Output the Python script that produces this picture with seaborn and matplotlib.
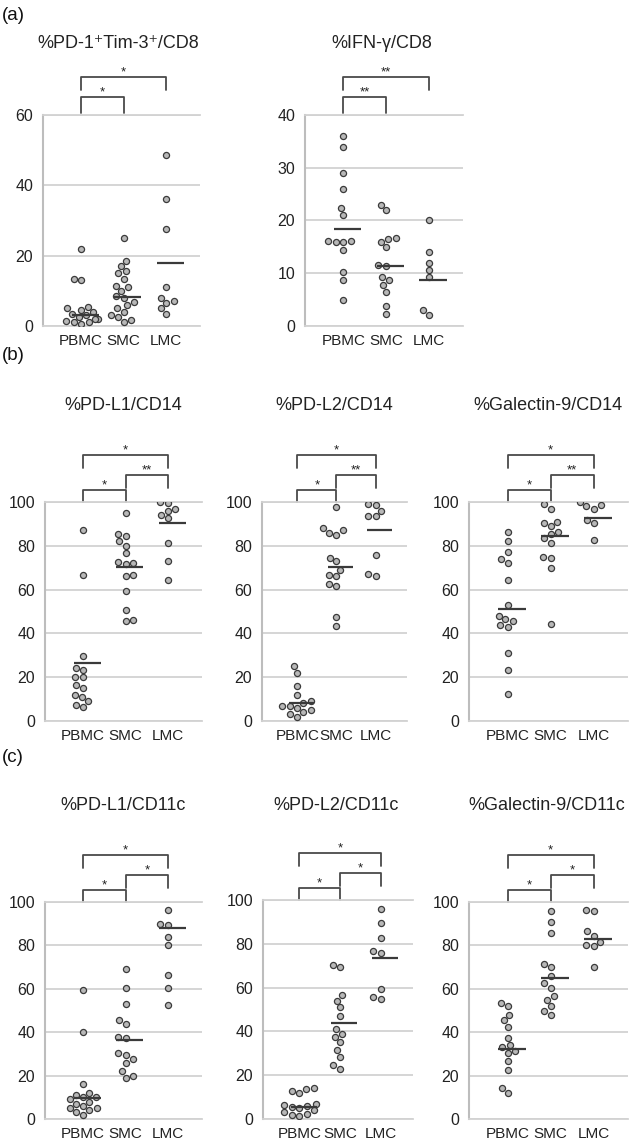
import matplotlib
matplotlib.use('Agg')
import pandas as pd
import matplotlib.pyplot as plt
import seaborn as sns

sns.set_style('white')
plt.rcParams['font.family'] = ['Liberation Sans', 'DejaVu Sans']

groups = ['PBMC', 'SMC', 'LMC']

# (a) %PD-1+Tim-3+/CD8
pd1tim3_pbmc = [22, 13.5, 13, 5.5, 5, 4.5, 4, 3.5, 3, 2.5, 2, 2, 1.5, 1, 1, 0.5]
pd1tim3_smc = [25, 18.5, 17, 15.5, 15, 13.5, 11.5, 11, 10, 8.5, 8, 6.8, 5.9, 5, 4, 3, 2.5, 1.6, 1]
pd1tim3_lmc = [48.5, 36, 27.5, 11, 8, 7, 6.5, 5, 3.5]
pd1tim3_mean = [3, 8.3, 18]

# (a) %IFN-g/CD8
ifng_pbmc = [36, 34, 29, 26, 22.3, 21, 16.2, 16, 16, 16.2, 14.5, 10.3, 8.7, 5]
ifng_smc = [23, 22, 16.6, 16.5, 16, 15, 11.6, 11.4, 9.2, 8.7, 7.8, 6.5, 3.8, 2.3]
ifng_lmc = [20, 14, 12, 10.6, 9.2, 3, 2.1]
ifng_mean = [18.4, 11.4, 8.7]

# (b) %PD-L1/CD14
pdl1_cd14_pbmc = [87, 66.5, 29.5, 24, 23.5, 20, 20, 16.5, 15, 12, 11, 9, 7.5, 6.5]
pdl1_cd14_smc = [95, 85.5, 84.5, 82, 80, 76.5, 72.5, 72, 71.5, 66.5, 66, 59.5, 50.5, 46, 45.5]
pdl1_cd14_lmc = [100, 99.5, 97, 96, 94, 92.5, 81.5, 73, 64.5]
pdl1_cd14_mean = [26.4, 70.2, 90.6]

# (b) %PD-L2/CD14
pdl2_cd14_pbmc = [25, 22, 16, 12, 9, 8, 7, 7, 6, 5, 4, 3, 2]
pdl2_cd14_smc = [97.5, 88, 87, 86, 85, 74.5, 73, 69, 66.5, 66, 62.5, 61.5, 47.5, 43.5]
pdl2_cd14_lmc = [99, 98.5, 96, 93.5, 93.5, 76, 67, 66]
pdl2_cd14_mean = [8, 70.3, 87]

# (b) %Galectin-9/CD14
gal9_cd14_pbmc = [86.5, 82, 77, 74, 72, 64.5, 53, 48, 46.5, 45.5, 44, 43, 31, 23.5, 12.5]
gal9_cd14_smc = [99, 97, 91, 90.5, 89, 86.5, 85.5, 83.5, 81.5, 75, 74.5, 70, 44.3]
gal9_cd14_lmc = [100, 98.5, 98, 97, 92, 90.5, 82.5]
gal9_cd14_mean = [51.1, 84.4, 92.8]

# (c) %PD-L1/CD11c
pdl1_cd11c_pbmc = [59.5, 40, 16, 12, 11, 10, 10, 9, 8, 7, 6, 5, 5, 4, 3, 2]
pdl1_cd11c_smc = [69, 60.5, 53, 45.5, 44, 38, 37.5, 30.5, 29.5, 27.5, 26, 22, 20, 19]
pdl1_cd11c_lmc = [96.5, 90, 89.5, 84, 80, 66.5, 60.5, 52.5]
pdl1_cd11c_mean = [9.7, 36.5, 87.9]

# (c) %PD-L2/CD11c
pdl2_cd11c_pbmc = [14, 13.5, 13, 12, 7, 6.5, 6, 5.5, 5, 4, 3, 2.5, 2, 1.5]
pdl2_cd11c_smc = [70.5, 69.5, 56.5, 54, 51, 47, 41, 39, 37.5, 35, 31.5, 28.5, 24.5, 23]
pdl2_cd11c_lmc = [96, 89.5, 82.5, 76.5, 76, 59.5, 55.5, 55]
pdl2_cd11c_mean = [5.7, 43.7, 73.6]

# (c) %Galectin-9/CD11c
gal9_cd11c_pbmc = [53.5, 52, 48, 45.5, 42.5, 37.5, 34, 33, 31.5, 30.5, 26.5, 22.5, 14.5, 12]
gal9_cd11c_smc = [96, 91, 85.5, 71.5, 70, 66, 62.5, 60.5, 56.5, 55, 52, 50, 48]
gal9_cd11c_lmc = [96.5, 96, 86.5, 84.5, 81.5, 80, 79.5, 70]
gal9_cd11c_mean = [32.2, 64.9, 83.1]

# significance brackets: (group i, group j, label, level)
sig_a1 = [(0, 1, '*', 0), (0, 2, '*', 1)]
sig_a2 = [(0, 1, '**', 0), (0, 2, '**', 1)]
sig_3 = ['*', '**', '*']    # PBMC-SMC, SMC-LMC, PBMC-LMC
sig_3c = ['*', '*', '*']

W, H = 632, 1146
fig = plt.figure(figsize=(W / 100, H / 100), dpi=100)


def px_axes(l, t, r, b):
    return fig.add_axes([l / W, 1 - b / H, (r - l) / W, (b - t) / H])


def draw_panel(rect, title, tx, ty, vals, means, ymax, ystep, brackets, two_level):
    ax = px_axes(*rect)
    df = pd.DataFrame({
        'group': sum([[g] * len(v) for g, v in zip(groups, vals)], []),
        'value': sum([list(v) for v in vals], []),
    })
    sns.swarmplot(data=df, x='group', y='value', order=groups, ax=ax, size=4.4,
                  color='#b8b8b8', edgecolor='#3a3a3a', linewidth=0.9, warn_thresh=1)
    idx = range(len(groups))
    ax.hlines(means, [i - 0.22 for i in idx], [i + 0.42 for i in idx],
              color='#3a3a3a', lw=1.6, zorder=5)
    ax.set_xlim(-0.9, 2.8)
    ax.set_ylim(0, ymax)
    ax.set_yticks(range(0, ymax + 1, ystep))
    ax.set_xlabel('')
    ax.set_ylabel('')
    ax.yaxis.grid(True, color='#d2d2d2', lw=1.3)
    ax.set_axisbelow(True)
    for s in ['top', 'bottom']:
        ax.spines[s].set_color('#d2d2d2')
        ax.spines[s].set_linewidth(1.3)
    ax.spines['right'].set_visible(False)
    ax.spines['left'].set_color('#bdbdbd')
    ax.spines['left'].set_linewidth(1.5)
    ax.tick_params(axis='both', length=0, colors='#222222')
    ax.tick_params(axis='y', pad=7, labelsize=11.5)
    ax.tick_params(axis='x', pad=6, labelsize=11)
    fig.text(tx / W, 1 - ty / H, title, ha='center', va='center', fontsize=13, color='#222222')

    hpx = rect[3] - rect[1]
    trans = ax.get_xaxis_transform()
    if two_level:
        levels = [(18, 2), (38, 25)]
    else:
        levels = [(12, 0), (27, 14), (47, 34)]
    for i, j, lab, lev in brackets:
        top, bot = levels[lev]
        yt = 1 + top / hpx
        yb = 1 + bot / hpx
        ax.plot([i, i, j, j], [yb, yt, yt, yb], transform=trans, clip_on=False,
                color='#4a4a4a', lw=1.3)
        ax.text((i + j) / 2, yt + 2 / hpx, lab, transform=trans, ha='center', va='baseline',
                fontsize=9.5, color='#222222')
    return ax


def three(sig):
    return [(0, 1, sig[0], 0), (1, 2, sig[1], 1), (0, 2, sig[2], 2)]


draw_panel((43, 115, 200, 326), '%PD-1\u207aTim-3\u207a/CD8', 118, 43,
           [pd1tim3_pbmc, pd1tim3_smc, pd1tim3_lmc], pd1tim3_mean, 60, 20, sig_a1, True)
draw_panel((305, 115, 463, 326), '%IFN-γ/CD8', 382, 43,
           [ifng_pbmc, ifng_smc, ifng_lmc], ifng_mean, 40, 10, sig_a2, True)

draw_panel((45, 502, 202, 721), '%PD-L1/CD14', 123, 405,
           [pdl1_cd14_pbmc, pdl1_cd14_smc, pdl1_cd14_lmc], pdl1_cd14_mean, 100, 20, three(sig_3), False)
draw_panel((262, 502, 407, 721), '%PD-L2/CD14', 334, 405,
           [pdl2_cd14_pbmc, pdl2_cd14_smc, pdl2_cd14_lmc], pdl2_cd14_mean, 100, 20, three(sig_3), False)
draw_panel((469, 502, 628, 721), '%Galectin-9/CD14', 548, 405,
           [gal9_cd14_pbmc, gal9_cd14_smc, gal9_cd14_lmc], gal9_cd14_mean, 100, 20, three(sig_3), False)

draw_panel((45, 902, 202, 1119), '%PD-L1/CD11c', 123, 805,
           [pdl1_cd11c_pbmc, pdl1_cd11c_smc, pdl1_cd11c_lmc], pdl1_cd11c_mean, 100, 20, three(sig_3c), False)
draw_panel((263, 900, 413, 1119), '%PD-L2/CD11c', 336, 805,
           [pdl2_cd11c_pbmc, pdl2_cd11c_smc, pdl2_cd11c_lmc], pdl2_cd11c_mean, 100, 20, three(sig_3c), False)
draw_panel((469, 902, 628, 1119), '%Galectin-9/CD11c', 547, 805,
           [gal9_cd11c_pbmc, gal9_cd11c_smc, gal9_cd11c_lmc], gal9_cd11c_mean, 100, 20, three(sig_3c), False)

for lab, y in [('(a)', 15), ('(b)', 355), ('(c)', 757)]:
    fig.text(2 / W, 1 - y / H, lab, ha='left', va='center', fontsize=13.5, color='#111111')

fig.savefig('out.png', dpi=100)
